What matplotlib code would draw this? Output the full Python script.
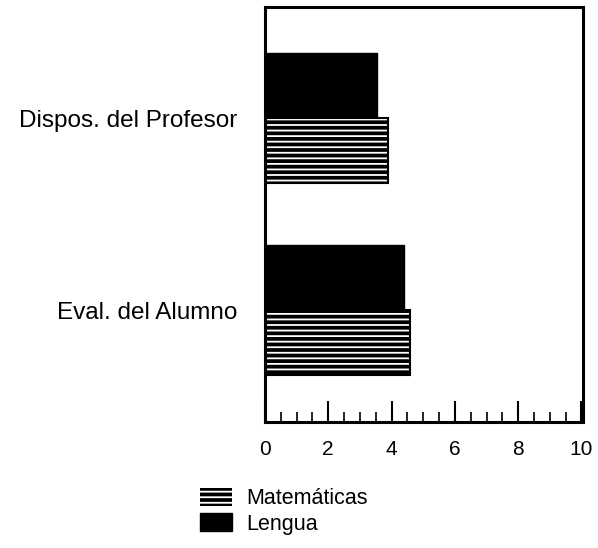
import matplotlib
matplotlib.use("Agg")
import matplotlib.pyplot as plt
from matplotlib.patches import Patch
from matplotlib.ticker import MultipleLocator

categories = ["Eval. del Alumno", "Dispos. del Profesor"]
matematicas = [4.58, 3.9]
lengua = [4.4, 3.55]
series_names = ["Matemáticas", "Lengua"]
xticks = [0, 2, 4, 6, 8, 10]

plt.rcParams['font.family'] = ['Liberation Sans', 'DejaVu Sans']
plt.rcParams['hatch.linewidth'] = 1.3

fig = plt.figure(figsize=(5.98, 5.48), dpi=100)
ax = fig.add_axes([0.443, 0.230, 0.532, 0.757])

ypos = list(range(len(categories)))
h = 0.34
off = 0.17

# Lengua: solid black
ax.barh([y + off for y in ypos], lengua, height=h, color='black', edgecolor='black', linewidth=1)
# Matematicas: black with white horizontal stripes
ax.barh([y - off for y in ypos], matematicas, height=h, color='black', edgecolor='white',
        hatch='---', linewidth=0)
ax.barh([y - off for y in ypos], matematicas, height=h, fill=False, edgecolor='black', linewidth=1.5)

ax.set_xlim(0, 10.05)
ax.set_ylim(-0.583, 1.578)
ax.set_yticks(ypos)
ax.set_yticklabels(categories, fontsize=17.5)
ax.tick_params(axis='y', length=0, pad=20)
ax.set_xticks(xticks)
ax.set_xticklabels([str(t) for t in xticks], fontsize=15)
ax.xaxis.set_minor_locator(MultipleLocator(0.5))
ax.tick_params(axis='x', which='major', direction='in', length=15, width=1.5, pad=13)
ax.tick_params(axis='x', which='minor', direction='in', length=7, width=1.2)
for s in ax.spines.values():
    s.set_linewidth(2.2)

handles = [Patch(facecolor='black', edgecolor='white', hatch='---', linewidth=0),
           Patch(facecolor='black', edgecolor='black')]
fig.legend(handles, series_names, loc='upper left', bbox_to_anchor=(0.334, 0.110),
           frameon=False, fontsize=15.5, handlelength=1.5, handleheight=0.9,
           labelspacing=0.2, handletextpad=0.65, borderpad=0, borderaxespad=0)

fig.savefig("out.png", dpi=100)
